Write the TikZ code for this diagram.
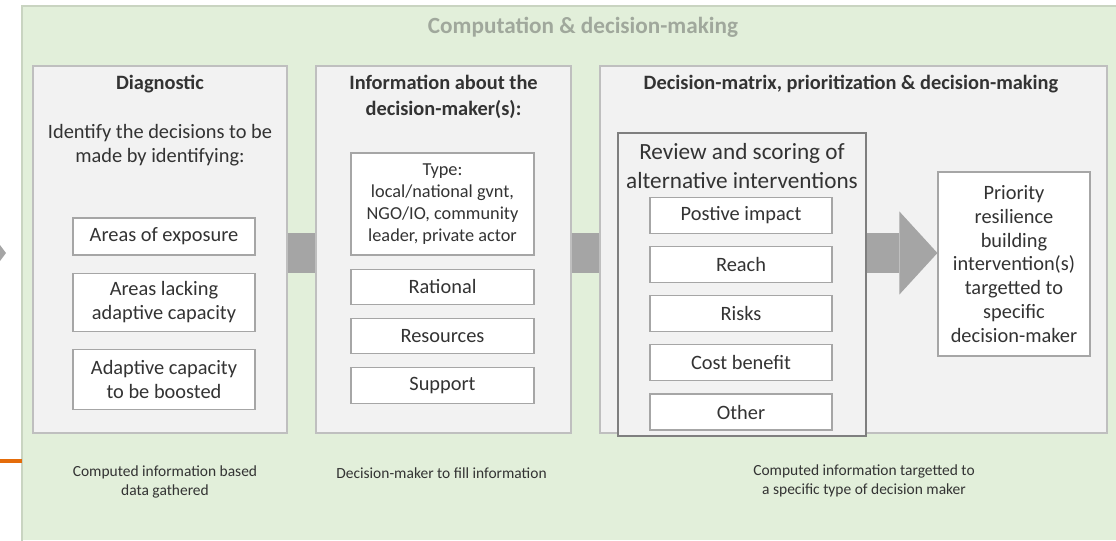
\documentclass[tikz,border=0pt]{standalone}
\usepackage{fontspec}
\setmainfont{Carlito}
\usetikzlibrary{arrows.meta, positioning}
\definecolor{dmgreen}{HTML}{E2EFDA}
\definecolor{dmgreenedge}{HTML}{C9D4C1}
\definecolor{dmpanel}{HTML}{F2F2F2}
\definecolor{dmedge}{HTML}{BFBFBF}
\definecolor{dmboxedge}{HTML}{A6A6A6}
\definecolor{dmdark}{HTML}{7F7F7F}
\definecolor{dmarrow}{HTML}{A5A5A5}
\definecolor{dmtext}{HTML}{333333}
\definecolor{dmtitle}{HTML}{A0A89C}
\definecolor{dmorange}{HTML}{E46C0A}
\tikzset{
  outer/.style={rectangle, fill=dmgreen, inner sep=0pt, minimum width=27.35cm, minimum height=13.35cm},
  outeredge/.style={dmgreenedge, line width=1.5pt},
  maintitle/.style={font=\bfseries\fontsize{16.5}{20}\selectfont, text=dmtitle},
  panel/.style={rectangle, fill=dmpanel, draw=dmedge, line width=1pt, minimum height=9.175cm},
  ptitle/.style={font=\bfseries\fontsize{14.5}{18.5}\selectfont, align=center, text=dmtext, inner sep=0pt},
  plain/.style={font=\fontsize{14.5}{17}\selectfont, align=center, text=dmtext, inner sep=0pt},
  item/.style={rectangle, fill=white, draw=dmboxedge, line width=0.8pt, minimum width=4.55cm,
    font=\fontsize{14.5}{17}\selectfont, align=center, text=dmtext, inner sep=1pt},
  review/.style={rectangle, fill=dmpanel, draw=dmdark, line width=1.2pt},
  rtitle/.style={font=\fontsize{16.5}{20}\selectfont, align=center, text=dmtext, inner sep=0pt},
  note/.style={font=\fontsize{11}{14}\selectfont, align=center, text=dmtext},
  shaft/.style={line width=1cm, dmarrow},
  bigarrow/.style={line width=1cm, dmarrow, -{Triangle[length=0.95cm, width=2.075cm, line width=0pt]}},
}

\begin{document}
\begin{tikzpicture}[x=0.025cm, y=0.025cm]
    \useasboundingbox (0,0) rectangle (1116,-540);
    % Computation frame
    \node[outer, anchor=north west] (comp) at (22,-6) {};
    \draw[outeredge] (comp.south west) -- (comp.north west) -- (comp.north east);
    \node[maintitle] (comptitle) at (583,-27) {Computation \& decision-making};

    % Diagnostic
    \node[panel, minimum width=6.35cm] (diag) at (160,-249.5) {};
    \node[ptitle] (diagtitle) at (160,-84) {Diagnostic};
    \node[plain] (diagintro) at (160,-145) {Identify the decisions to be\\made by identifying:};
    \node[item, minimum height=0.925cm] (expo) at (164,-236.5) {Areas of exposure};
    \node[item, minimum height=1.45cm, below=0.425cm of expo] (lacking) {Areas lacking\\adaptive capacity};
    \node[item, minimum height=1.5cm, below=0.425cm of lacking] (boost) {Adaptive capacity\\to be boosted};

    % Information about the decision-maker
    \node[panel, minimum width=6.375cm] (info) at (443.5,-249.5) {};
    \node[ptitle] (infotitle) at (443.5,-96.5) {Information about the\\decision-maker(s):};
    \node[item, minimum width=4.575cm, minimum height=2.55cm, font=\fontsize{13}{15.5}\selectfont] (dmtype) at (442.5,-204) {Type:\\local/national gvnt,\\NGO/IO, community\\leader, private actor};
    \node[item, minimum width=4.575cm, minimum height=0.875cm, below=0.325cm of dmtype] (rational) {Rational};
    \node[item, minimum width=4.575cm, minimum height=0.875cm, below=0.325cm of rational] (resources) {Resources};
    \node[item, minimum width=4.575cm, minimum height=0.9cm, below=0.325cm of resources] (support) {Support};

    % Decision-matrix
    \node[panel, minimum width=12.675cm] (dec) at (853.5,-249.5) {};
    \node[ptitle] (dectitle) at (851,-84) {Decision-matrix, prioritization \& decision-making};
    \node[review, minimum width=6.2cm, minimum height=7.575cm] (review) at (742,-284.5) {};
    \node[rtitle] (reviewtitle) at (742,-166) {Review and scoring of\\alternative interventions};
    \node[item, minimum height=0.9cm] (impact) at (741,-215.5) {Postive impact};
    \node[item, minimum height=0.9cm, below=0.3cm of impact] (reach) {Reach};
    \node[item, minimum height=0.9cm, below=0.3cm of reach] (risks) {Risks};
    \node[item, minimum height=0.9cm, below=0.3cm of risks] (costben) {Cost benefit};
    \node[item, minimum height=0.9cm, below=0.3cm of costben] (other) {Other};
    \node[item, minimum width=3.8cm, minimum height=4.6cm] (priority) at (1014,-264) {Priority\\resilience\\building\\intervention(s)\\targetted to\\specific\\decision-maker};

    % Flow
    \coordinate (axis) at (0,-253);
    \draw[shaft] (diag.east |- axis) -- (info.west |- axis);
    \draw[shaft] (info.east |- axis) -- (dec.west |- axis);
    \draw[bigarrow] (review.east |- axis) -- (priority.west |- axis);

    % Notes
    \node[note] (diagnote) at (165,-482) {Computed information based\\data gathered};
    \node[note] (infonote) at (441.5,-473) {Decision-maker to fill information};
    \node[note] (decnote) at (864,-481) {Computed information targetted to\\a specific type of decision maker};

    % Cut-off pieces at the left edge
    \fill[dmarrow] (axis) ++(0,8) -- ++(6,-8) -- ++(-6,-8) -- cycle;
    \coordinate (orangeend) at (comp.west |- 0,-461);
    \draw[dmorange, line width=2.5pt] (0,-461) -- (orangeend);
  \end{tikzpicture}
\end{document}
